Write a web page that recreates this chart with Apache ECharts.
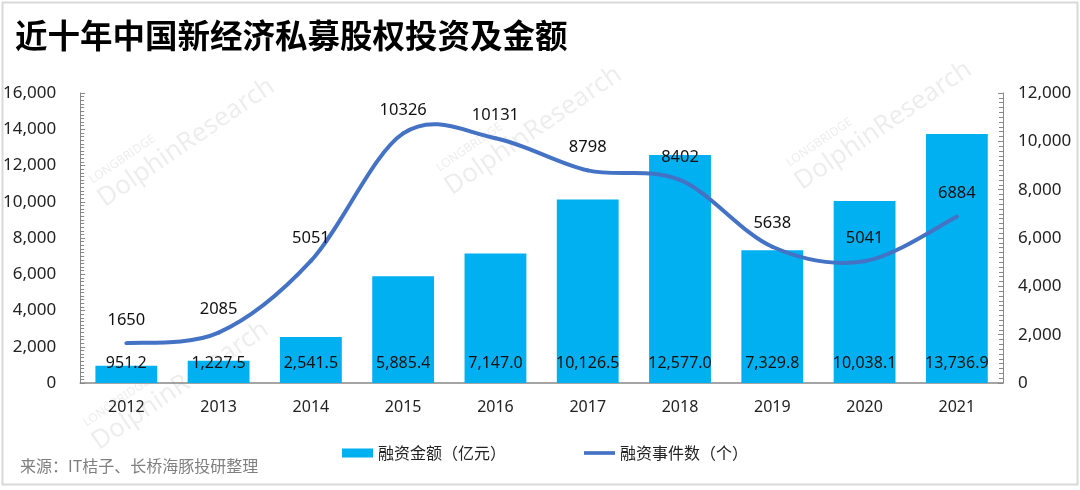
<!DOCTYPE html>
<html>
<head>
<meta charset="utf-8">
<script src="https://cdn.jsdelivr.net/npm/echarts@6/dist/echarts.min.js"></script>
<style>
html,body{margin:0;padding:0;background:#fff;}
#c{width:1080px;height:490px;}
</style>
</head>
<body>
<div id="c"></div>
<script>
const years = ['2012','2013','2014','2015','2016','2017','2018','2019','2020','2021'];
const amount = [951.2, 1227.5, 2541.5, 5885.4, 7147.0, 10126.5, 12577.0, 7329.8, 10038.1, 13736.9];
const events = [1650, 2085, 5051, 10326, 10131, 8798, 8402, 5638, 5041, 6884];
const titleText = '近十年中国新经济私募股权投资及金额';
const sourceText = '来源：IT桔子、长桥海豚投研整理';
const amountName = '融资金额（亿元）';
const eventsName = '融资事件数（个）';

const FONT = '"Noto Sans", "Noto Sans CJK SC", sans-serif';
const CJK = '"Noto Sans CJK SC", sans-serif';
const fmt = v => Number(v).toLocaleString('en-US');
const fmt1 = v => Number(v).toLocaleString('en-US', {minimumFractionDigits:1, maximumFractionDigits:1});

function wm(x, y) {
  return [
    {type:'text', x:x-14, y:y-26, rotation:0.6, silent:true, z:-1,
     style:{text:'LONGBRIDGE', font:'12px ' + FONT, fill:'rgba(0,0,0,0.08)', verticalAlign:'bottom'}},
    {type:'text', x:x, y:y, rotation:0.6, silent:true, z:-1,
     style:{text:'DolphinResearch', font:'26px ' + FONT, fill:'rgba(0,0,0,0.07)', verticalAlign:'bottom'}}
  ];
}

const chart = echarts.init(document.getElementById('c'));
chart.setOption({
  backgroundColor:'#fff',
  animation:false,
  textStyle:{fontFamily:FONT},
  title:{
    text:titleText, left:10, top:14,
    textStyle:{fontFamily:CJK, fontSize:32.5, fontWeight:'bold', color:'#000'}
  },
  graphic:[
    {type:'rect', shape:{x:2.5, y:2.5, width:1075, height:482}, silent:true,
     style:{fill:'none', stroke:'#d9d9d9', lineWidth:2}},
    {type:'text', left:20, top:458, silent:true,
     style:{text:sourceText, font:'16px ' + CJK, fill:'#7f7f7f'}},
    ...wm(108, 212), ...wm(455, 200), ...wm(805, 195), ...wm(102, 455)
  ],
  legend:{
    left:337, top:440, itemGap:78, itemWidth:31, itemHeight:9,
    textStyle:{fontFamily:CJK, fontSize:16, color:'#222'},
    data:[
      {name:amountName, icon:'rect'},
      {name:eventsName, icon:'path://M0,0 L34,0 L34,4 L0,4 Z', itemStyle:{color:'#4472C4'}}
    ]
  },
  grid:{left:80, right:77, top:93, bottom:107},
  xAxis:{
    type:'category', data:years,
    axisLine:{lineStyle:{color:'#888', width:1.5}},
    axisTick:{show:false},
    axisLabel:{fontSize:16, color:'#222', margin:16}
  },
  yAxis:[
    {
      type:'value', min:0, max:16000, interval:2000,
      axisLine:{show:true, lineStyle:{color:'#888'}},
      axisTick:{show:true, inside:true, length:5, lineStyle:{color:'#888'}},
      minorTick:{show:true, splitNumber:10, length:4, lineStyle:{color:'#888'}},
      splitLine:{show:false},
      axisLabel:{fontSize:17, color:'#222', margin:24, formatter:fmt}
    },
    {
      type:'value', min:0, max:12000, interval:2000,
      axisLine:{show:true, lineStyle:{color:'#888'}},
      axisTick:{show:true, inside:true, length:5, lineStyle:{color:'#888'}},
      minorTick:{show:true, splitNumber:10, length:4, lineStyle:{color:'#888'}},
      splitLine:{show:false},
      axisLabel:{fontSize:17, color:'#222', margin:15, formatter:fmt}
    }
  ],
  series:[
    {
      name:amountName, type:'bar', data:amount, yAxisIndex:0,
      barWidth:'67%',
      itemStyle:{color:'#00B0F0'},
      label:{show:true, position:'insideBottom', distance:12, fontSize:16, color:'#111',
             formatter:p => fmt1(p.value)}
    },
    {
      name:eventsName, type:'custom', yAxisIndex:1, z:3,
      itemStyle:{color:'#4472C4'},
      data:events.map((v, i) => [years[i], v]),
      encode:{x:0, y:1},
      renderItem:(params, api) => {
        const i = params.dataIndex;
        const n = events.length;
        const pt = k => api.coord([k, events[k]]);
        const children = [];
        if (i < n - 1) {
          const p0 = pt(Math.max(i - 1, 0)), p1 = pt(i), p2 = pt(i + 1), p3 = pt(Math.min(i + 2, n - 1));
          const t = 1 / 6;
          children.push({
            type:'bezierCurve',
            shape:{x1:p1[0], y1:p1[1], x2:p2[0], y2:p2[1],
                   cpx1:p1[0] + (p2[0] - p0[0]) * t, cpy1:p1[1] + (p2[1] - p0[1]) * t,
                   cpx2:p2[0] - (p3[0] - p1[0]) * t, cpy2:p2[1] - (p3[1] - p1[1]) * t},
            style:{stroke:'#4472C4', lineWidth:4, fill:null, lineCap:'round'}
          });
        }
        const p = pt(i);
        children.push({
          type:'text', x:p[0], y:p[1] - 23, z2:10,
          style:{text:String(events[i]), align:'center', verticalAlign:'middle',
                 font:'16.5px ' + FONT, fill:'#111'}
        });
        return {type:'group', children};
      }
    }
  ]
});
</script>
</body>
</html>
